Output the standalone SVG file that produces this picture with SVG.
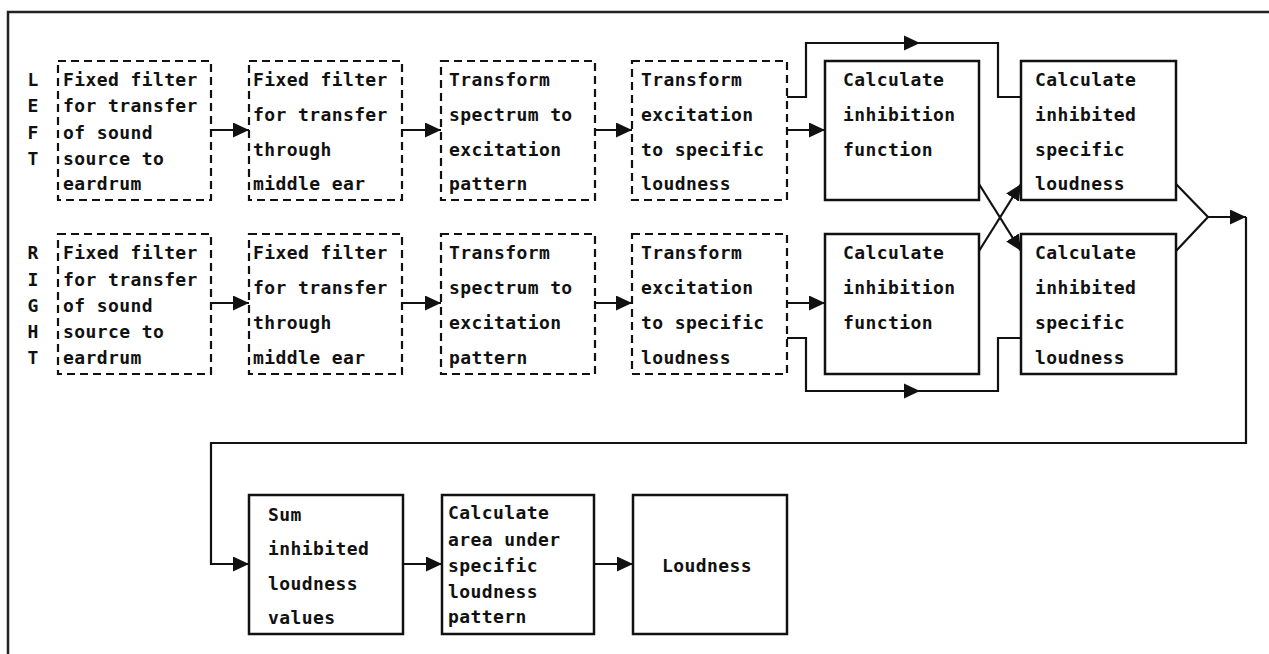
<svg xmlns="http://www.w3.org/2000/svg" width="1269" height="654" viewBox="0 0 1269 654">
<style>
  .frame{fill:none;stroke:#222;stroke-width:2.5}
  .dash{fill:#fff;stroke:#111;stroke-width:2.2;stroke-dasharray:8 5}
  .solid{fill:#fff;stroke:#111;stroke-width:2.5}
  .t{font-family:"DejaVu Sans Mono","Liberation Mono",monospace;font-weight:bold;font-size:18px;letter-spacing:0.4px;fill:#111}
  .lbl{font-family:"DejaVu Sans Mono","Liberation Mono",monospace;font-weight:bold;font-size:18px;fill:#111;text-anchor:middle}
  .c{fill:none;stroke:#111;stroke-width:2.2}
  .a{marker-end:url(#ah)}
  .head{fill:#111}
</style>
<defs>
  <marker id="ah" markerUnits="userSpaceOnUse" markerWidth="16" markerHeight="15" refX="16" refY="7.5" orient="auto">
    <path d="M0,0 L16,7.5 L0,15 z" fill="#111"/>
  </marker>
</defs>
<rect width="1269" height="654" fill="#fff"/>
<path class="frame" d="M8,654 V12 H1269"/>

<g id="side-labels">
  <text class="lbl" x="33" y="86">L</text>
  <text class="lbl" x="33" y="112">E</text>
  <text class="lbl" x="33" y="139">F</text>
  <text class="lbl" x="33" y="165">T</text>
  <text class="lbl" x="33" y="259">R</text>
  <text class="lbl" x="33" y="286">I</text>
  <text class="lbl" x="33" y="312">G</text>
  <text class="lbl" x="33" y="338">H</text>
  <text class="lbl" x="33" y="364">T</text>
</g>

<g id="connectors">
  <path class="c a" d="M211,130 H249"/>
  <path class="c a" d="M402,130 H441"/>
  <path class="c a" d="M595,130 H632"/>
  <path class="c a" d="M787,130 H825"/>
  <path class="c" d="M787,97 H806 V43 H998 V97 H1021"/>
  <polygon class="head" points="904,35.5 920,43 904,50.5"/>
  <path class="c a" d="M211,303 H249"/>
  <path class="c a" d="M402,303 H441"/>
  <path class="c a" d="M595,303 H632"/>
  <path class="c a" d="M787,303 H825"/>
  <path class="c" d="M787,338 H806 V391 H998 V338 H1021"/>
  <polygon class="head" points="904,383.5 920,391 904,398.5"/>
  <path class="c a" d="M979,184 L1021,251"/>
  <path class="c a" d="M979,251 L1021,184"/>
  <path class="c" d="M1176,184 L1208,217 L1176,251"/>
  <path class="c a" d="M1208,217 H1246"/>
  <path class="c a" d="M1246,217 V443 H211 V564 H249"/>
  <path class="c a" d="M403,564 H442"/>
  <path class="c a" d="M594,564 H633"/>
</g>

<g id="left-ear-filter">
  <rect class="dash" x="58" y="61" width="153" height="139"/>
  <text class="t" x="63" y="86">Fixed filter</text>
  <text class="t" x="63" y="112">for transfer</text>
  <text class="t" x="63" y="139">of sound</text>
  <text class="t" x="63" y="165">source to</text>
  <text class="t" x="63" y="190">eardrum</text>
</g>
<g id="left-middle-ear">
  <rect class="dash" x="249" y="61" width="153" height="139"/>
  <text class="t" x="253" y="86">Fixed filter</text>
  <text class="t" x="253" y="121">for transfer</text>
  <text class="t" x="253" y="156">through</text>
  <text class="t" x="253" y="190">middle ear</text>
</g>
<g id="left-excitation">
  <rect class="dash" x="441" y="61" width="154" height="139"/>
  <text class="t" x="449" y="86">Transform</text>
  <text class="t" x="449" y="121">spectrum to</text>
  <text class="t" x="449" y="156">excitation</text>
  <text class="t" x="449" y="190">pattern</text>
</g>
<g id="left-specific">
  <rect class="dash" x="632" y="61" width="155" height="139"/>
  <text class="t" x="641" y="86">Transform</text>
  <text class="t" x="641" y="121">excitation</text>
  <text class="t" x="641" y="156">to specific</text>
  <text class="t" x="641" y="190">loudness</text>
</g>
<g id="left-inhibition">
  <rect class="solid" x="825" y="61" width="154" height="139"/>
  <text class="t" x="843" y="86">Calculate</text>
  <text class="t" x="843" y="121">inhibition</text>
  <text class="t" x="843" y="156">function</text>
</g>
<g id="left-inhibited">
  <rect class="solid" x="1021" y="61" width="155" height="139"/>
  <text class="t" x="1035" y="86">Calculate</text>
  <text class="t" x="1035" y="121">inhibited</text>
  <text class="t" x="1035" y="156">specific</text>
  <text class="t" x="1035" y="190">loudness</text>
</g>

<g id="right-ear-filter">
  <rect class="dash" x="58" y="234" width="153" height="140"/>
  <text class="t" x="63" y="259">Fixed filter</text>
  <text class="t" x="63" y="286">for transfer</text>
  <text class="t" x="63" y="312">of sound</text>
  <text class="t" x="63" y="338">source to</text>
  <text class="t" x="63" y="364">eardrum</text>
</g>
<g id="right-middle-ear">
  <rect class="dash" x="249" y="234" width="153" height="140"/>
  <text class="t" x="253" y="259">Fixed filter</text>
  <text class="t" x="253" y="294">for transfer</text>
  <text class="t" x="253" y="329">through</text>
  <text class="t" x="253" y="364">middle ear</text>
</g>
<g id="right-excitation">
  <rect class="dash" x="441" y="234" width="154" height="140"/>
  <text class="t" x="449" y="259">Transform</text>
  <text class="t" x="449" y="294">spectrum to</text>
  <text class="t" x="449" y="329">excitation</text>
  <text class="t" x="449" y="364">pattern</text>
</g>
<g id="right-specific">
  <rect class="dash" x="632" y="234" width="155" height="140"/>
  <text class="t" x="641" y="259">Transform</text>
  <text class="t" x="641" y="294">excitation</text>
  <text class="t" x="641" y="329">to specific</text>
  <text class="t" x="641" y="364">loudness</text>
</g>
<g id="right-inhibition">
  <rect class="solid" x="825" y="234" width="154" height="140"/>
  <text class="t" x="843" y="259">Calculate</text>
  <text class="t" x="843" y="294">inhibition</text>
  <text class="t" x="843" y="329">function</text>
</g>
<g id="right-inhibited">
  <rect class="solid" x="1021" y="234" width="155" height="140"/>
  <text class="t" x="1035" y="259">Calculate</text>
  <text class="t" x="1035" y="294">inhibited</text>
  <text class="t" x="1035" y="329">specific</text>
  <text class="t" x="1035" y="364">loudness</text>
</g>

<g id="sum">
  <rect class="solid" x="249" y="495" width="154" height="139"/>
  <text class="t" x="268" y="521">Sum</text>
  <text class="t" x="268" y="555">inhibited</text>
  <text class="t" x="268" y="590">loudness</text>
  <text class="t" x="268" y="624">values</text>
</g>
<g id="area">
  <rect class="solid" x="442" y="495" width="152" height="139"/>
  <text class="t" x="448" y="519">Calculate</text>
  <text class="t" x="448" y="546">area under</text>
  <text class="t" x="448" y="572">specific</text>
  <text class="t" x="448" y="598">loudness</text>
  <text class="t" x="448" y="623">pattern</text>
</g>
<g id="loudness">
  <rect class="solid" x="633" y="495" width="154" height="139"/>
  <text class="t" x="662" y="572">Loudness</text>
</g>
</svg>
